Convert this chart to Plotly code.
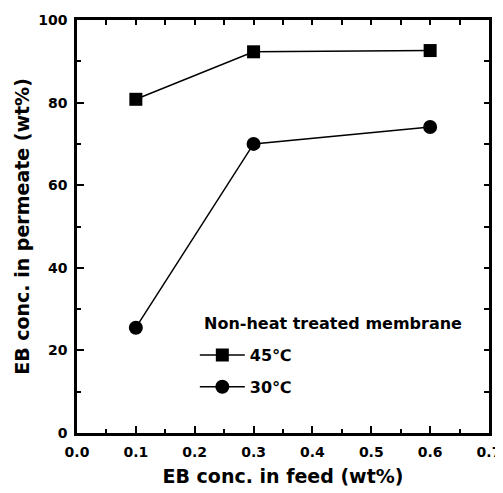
import plotly.graph_objects as go

feed = [0.1, 0.3, 0.6]
perm_45 = [80.8, 92.3, 92.6]
perm_30 = [25.5, 70.0, 74.1]
series_names = ["45\u2103", "30\u2103"]
legend_title = "Non-heat treated membrane"

fnt = "DejaVu Sans, Verdana, sans-serif"

fig = go.Figure()
fig.add_trace(go.Scatter(x=feed, y=perm_45, mode="lines+markers", name=series_names[0],
                         legendgroup="a",
                         line=dict(color="black", width=1.5),
                         marker=dict(symbol="square", size=13, color="black")))
fig.add_trace(go.Scatter(x=feed, y=perm_30, mode="lines+markers", name=series_names[1],
                         legendgroup="b",
                         line=dict(color="black", width=1.5),
                         marker=dict(symbol="circle", size=14, color="black")))
# empty trace to activate top/right tick axes
fig.add_trace(go.Scatter(x=[], y=[], xaxis="x2", yaxis="y2", showlegend=False, hoverinfo="skip"))

tickfont = dict(family=fnt, size=14, color="black", weight="bold")
titlefont = dict(family=fnt, size=19, color="black", weight="bold")

fig.update_layout(
    width=495, height=479,
    margin=dict(l=69, r=14, t=12, b=54),
    paper_bgcolor="white", plot_bgcolor="white",
    xaxis=dict(range=[0, 0.7], dtick=0.1, tickformat=".1f", automargin=False,
               showgrid=False, zeroline=False, showline=True, linecolor="black", linewidth=2.5,
               mirror=True, ticks="inside", ticklen=7, tickwidth=2, tickcolor="black",
               ticklabelstandoff=4, tickfont=tickfont,
               minor=dict(dtick=0.05, ticks="inside", ticklen=4, tickwidth=2, tickcolor="black"),
               title=dict(text="EB conc. in feed (wt%)", standoff=12, font=titlefont)),
    yaxis=dict(range=[0, 100], dtick=20, automargin=False,
               showgrid=False, zeroline=False, showline=True, linecolor="black", linewidth=2.5,
               mirror=True, ticks="inside", ticklen=7, tickwidth=2, tickcolor="black",
               ticklabelstandoff=4, tickfont=tickfont,
               minor=dict(dtick=10, ticks="inside", ticklen=4, tickwidth=2, tickcolor="black"),
               title=dict(text="EB conc. in permeate (wt%)", standoff=4, font=titlefont)),
    xaxis2=dict(range=[0, 0.7], dtick=0.05, overlaying="x", side="top", anchor="y",
                showgrid=False, zeroline=False, showline=False, showticklabels=False,
                ticks="inside", ticklen=5, tickwidth=2, tickcolor="black", automargin=False),
    yaxis2=dict(range=[0, 100], dtick=10, overlaying="y", side="right", anchor="x",
                showgrid=False, zeroline=False, showline=False, showticklabels=False,
                ticks="inside", ticklen=5, tickwidth=2, tickcolor="black", automargin=False),
    showlegend=True,
    legend=dict(x=0.286, y=0.23, xanchor="left", yanchor="top",
                bgcolor="rgba(0,0,0,0)", traceorder="grouped",
                font=dict(family=fnt, size=16, color="black", weight="bold"),
                tracegroupgap=8, itemwidth=45),
    annotations=[dict(text=legend_title, xref="paper", yref="paper",
                      x=(202 - 77) / 412, y=(433 - 323) / 413, xanchor="left", yanchor="middle",
                      showarrow=False,
                      font=dict(family=fnt, size=16, color="black", weight="bold"))],
)

fig.write_html("out.html")
